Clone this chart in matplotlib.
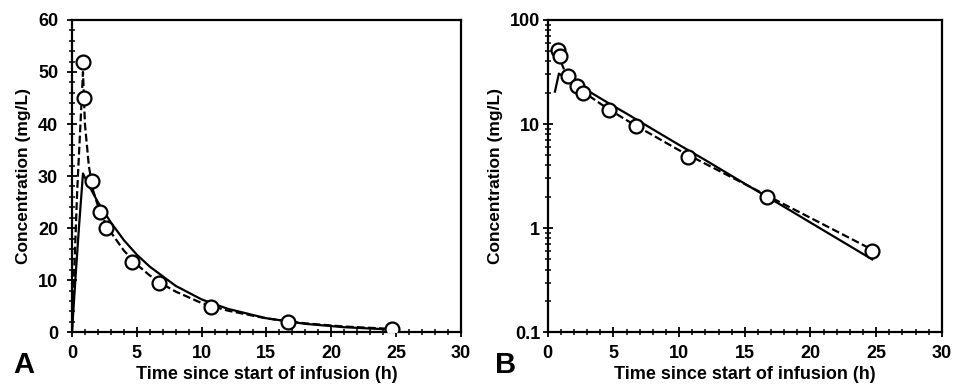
import matplotlib
matplotlib.use("Agg")
import matplotlib.pyplot as plt
import numpy as np
from matplotlib.ticker import MultipleLocator, LogLocator, NullFormatter, FixedLocator

plt.rcParams["font.family"] = ["Liberation Sans", "DejaVu Sans"]
plt.rcParams["font.weight"] = "bold"

# Observed concentrations
t_obs = [0.82, 0.93, 1.55, 2.2, 2.65, 4.65, 6.7, 10.7, 16.7, 24.7]
c_obs = [52, 45, 29, 23, 20, 13.5, 9.5, 4.8, 2.0, 0.6]

# One-compartment model prediction (solid line)
t_one = [0, 0.3, 0.55, 0.85, 1.0, 1.5, 2, 3, 4, 5, 6, 8, 10, 12, 15, 18, 21, 24.7]
c_one = [0, 11.5, 20.5, 30.5, 29.7, 27.3, 25.0, 21.1, 17.7, 14.9, 12.6, 8.9, 6.3, 4.5, 2.67, 1.60, 0.95, 0.50]

# Two-compartment model prediction (dashed line)
t_two = [0, 0.4, 0.85, 1.0, 1.3, 1.6, 2, 2.5, 3, 4, 5, 6, 7, 8, 10, 12, 15, 18, 21, 24.7]
c_two = [0, 27, 50, 40, 32, 27.5, 24.3, 21.3, 19.2, 15.7, 13.0, 10.9, 9.2, 7.8, 5.6, 4.15, 2.65, 1.69, 1.08, 0.62]

fig = plt.figure(figsize=(9.66, 3.84), dpi=100)
ax1 = fig.add_axes([0.0745, 0.135, 0.4025, 0.813])
ax2 = fig.add_axes([0.567, 0.135, 0.408, 0.813])

marker_style = dict(marker="o", ms=10, mfc="white", mec="black", mew=1.6, ls="none", zorder=3)

# Panel A - linear scale
ax1.plot(t_one, c_one, color="black", lw=1.6)
ax1.plot(t_two, c_two, color="black", lw=1.6, ls=(0, (3.5, 1.5)))
ax1.plot(t_obs, c_obs, **marker_style)
ax1.set_xlim(0, 30)
ax1.set_ylim(0, 60)
ax1.xaxis.set_major_locator(MultipleLocator(5))
ax1.xaxis.set_minor_locator(MultipleLocator(1))
ax1.yaxis.set_major_locator(MultipleLocator(10))
ax1.yaxis.set_minor_locator(MultipleLocator(2))

# Panel B - log scale (model lines start once the curves are visible)
ax2.plot(t_one[2:], c_one[2:], color="black", lw=1.6)
ax2.plot(t_two[2:], c_two[2:], color="black", lw=1.6, ls=(0, (3.5, 1.5)))
ax2.plot(t_obs, c_obs, **marker_style)
ax2.set_yscale("log")
ax2.set_xlim(0, 30)
ax2.set_ylim(0.1, 100)
ax2.xaxis.set_major_locator(MultipleLocator(5))
ax2.xaxis.set_minor_locator(MultipleLocator(1))
ax2.yaxis.set_major_locator(FixedLocator([0.1, 1, 10, 100]))
ax2.yaxis.set_minor_locator(LogLocator(base=10, subs=np.arange(2, 10)))
ax2.yaxis.set_minor_formatter(NullFormatter())
ax2.set_yticklabels(["0.1", "1", "10", "100"])

for ax in (ax1, ax2):
    for s in ax.spines.values():
        s.set_linewidth(1.6)
    ax.tick_params(which="major", direction="inout", length=7, width=1.3, labelsize=13, pad=2)
    ax.tick_params(which="minor", direction="inout", length=5, width=1.1)
    ax.tick_params(axis="x", which="major", pad=5.5)
    ax.set_xlabel("Time since start of infusion (h)", fontsize=13, fontweight="bold", labelpad=3)
    ax.set_ylabel("Concentration (mg/L)", fontsize=12.5, fontweight="bold", labelpad=5)
    for lab in ax.get_xticklabels() + ax.get_yticklabels():
        lab.set_fontweight("bold")

ax1.tick_params(axis="y", which="major", pad=6.5)

fig.text(0.014, 0.012, "A", fontsize=21, fontweight="bold", va="bottom")
fig.text(0.512, 0.012, "B", fontsize=21, fontweight="bold", va="bottom")

fig.savefig("out.png", dpi=100)
